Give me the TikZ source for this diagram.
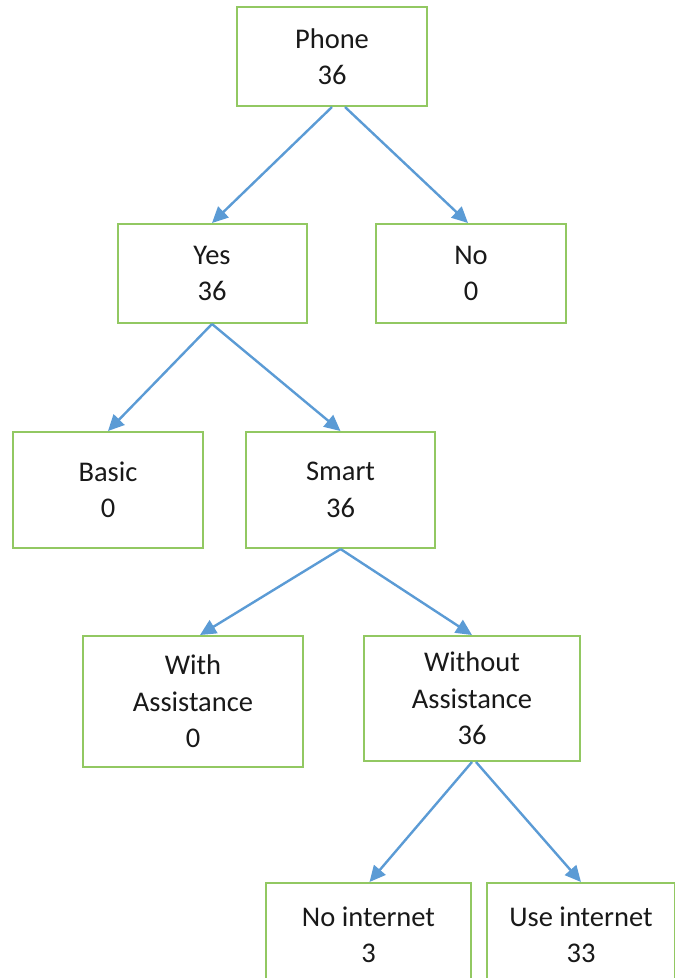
\documentclass[tikz,border=0pt]{standalone}
\usepackage{fontspec}
\setmainfont{Carlito}
\usetikzlibrary{arrows.meta}
\definecolor{boxgreen}{RGB}{146,200,98}
\definecolor{arrowblue}{RGB}{91,155,213}
\begin{document}
\begin{tikzpicture}[x=1pt,y=-1pt,
  box/.style={draw=boxgreen,line width=2pt,fill=white,rectangle,inner sep=0pt,
    align=center,font=\fontsize{28.5}{36.5}\selectfont,text=black!90},
  conn/.style={draw=arrowblue,line width=2.4pt,-{Triangle[length=16pt,width=15pt]}}]
\useasboundingbox (0,0) rectangle (675,978);
\clip (0,0) rectangle (675,978);
\node[box,minimum width=190pt,minimum height=99pt] (ph) at (332,56.5) {Phone\\36};
\node[box,minimum width=189pt,minimum height=99pt] (yes) at (212,273.5) {Yes\\36};
\node[box,minimum width=190pt,minimum height=99pt] (no) at (471,273.5) {No\\0};
\node[box,minimum width=190pt,minimum height=116pt] (basic) at (108,490) {Basic\\0};
\node[box,minimum width=189pt,minimum height=116pt] (smart) at (340.5,490) {Smart\\36};
\node[box,minimum width=220pt,minimum height=131pt] (with) at (193,701.5) {With\\Assistance\\0};
\node[box,minimum width=216pt,minimum height=125pt] (without) at (472,698.5) {Without\\Assistance\\36};
\node[box,minimum width=205pt,minimum height=104pt] (noint) at (368.5,935) {No internet\\3};
\node[box,minimum width=188pt,minimum height=104pt] (useint) at (581,935) {Use internet\\33};
\draw[conn] (ph.south) -- (yes.north);
\draw[conn] ([xshift=13pt]ph.south) -- ([xshift=-3pt]no.north);
\draw[conn] (yes.south) -- (basic.north);
\draw[conn] (yes.south) -- (smart.north);
\draw[conn] (smart.south) -- ([xshift=7pt]with.north);
\draw[conn] (smart.south) -- (without.north);
\draw[conn] (without.south) -- ([xshift=1pt]noint.north);
\draw[conn] ([xshift=4pt]without.south) -- (useint.north);
\end{tikzpicture}
\end{document}
